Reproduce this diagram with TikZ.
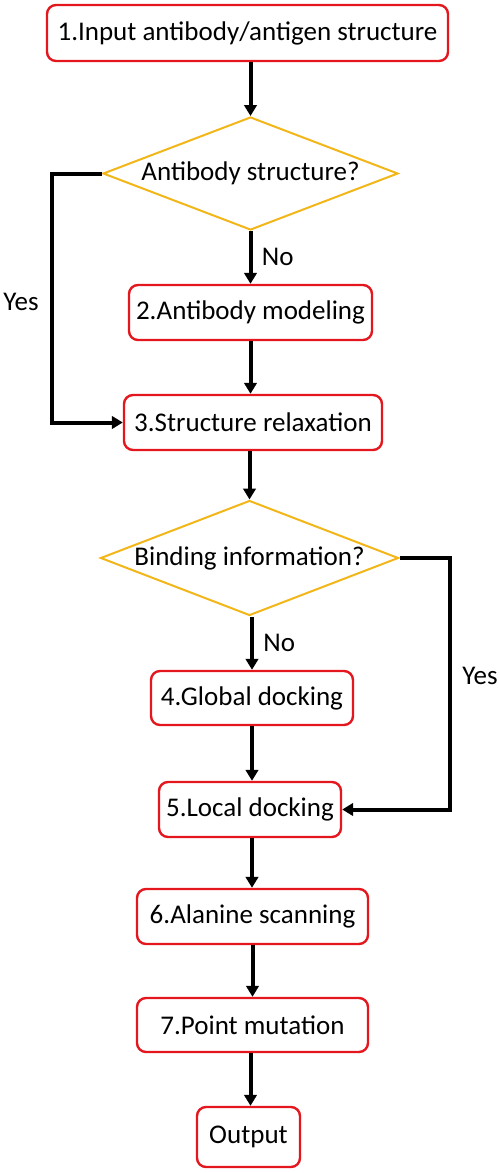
\documentclass[tikz,border=0pt]{standalone}
\usepackage{fontspec}
\setmainfont{Carlito}
\usetikzlibrary{arrows.meta}
\usetikzlibrary{shapes.geometric}
\definecolor{boxred}{RGB}{228,22,30}
\definecolor{decgold}{RGB}{242,182,24}
\tikzset{
 stepbox/.style={draw=boxred, line width=2.4pt, rounded corners=9pt, inner sep=0, font=\fontsize{27}{31}\selectfont},
 decision/.style={draw=decgold, diamond, aspect=2.6, line width=2pt, inner sep=0, font=\fontsize{27}{31}\selectfont},
 arr/.style={black, line width=4pt, -{Triangle[length=11pt,width=12.5pt]}},
 lbl/.style={font=\fontsize{27}{31}\selectfont}
}
\begin{document}
\begin{tikzpicture} [x=1pt, y=-1pt]
\useasboundingbox (0,0) rectangle (500,1173);
\node[stepbox, minimum width=401pt, minimum height=56pt] (b1) at (247.5,33) {1.Input antibody/antigen structure};
\node[decision, minimum width=295pt, minimum height=113pt] (d1) at (250.5,173.5) {Antibody structure?};
\node[stepbox, minimum width=243pt, minimum height=55pt] (b2) at (250.5,312.5) {2.Antibody modeling};
\node[stepbox, minimum width=258pt, minimum height=55pt] (b3) at (253,422.5) {3.Structure relaxation};
\node[decision, minimum width=298pt, minimum height=115pt] (d2) at (249.5,558) {Binding information?};
\node[stepbox, minimum width=202pt, minimum height=54pt] (b4) at (252,698) {4.Global docking};
\node[stepbox, minimum width=182pt, minimum height=55pt] (b5) at (250,809.5) {5.Local docking};
\node[stepbox, minimum width=231pt, minimum height=55pt] (b6) at (252.5,916.5) {6.Alanine scanning};
\node[stepbox, minimum width=231pt, minimum height=54pt] (b7) at (252.5,1025) {7.Point mutation};
\node[stepbox, minimum width=103pt, minimum height=60pt] (out) at (248.5,1137) {Output};
% main line
\draw[arr] (d1.north |- b1.south) -- (d1.north);
\draw[arr] (d1.south) -- (d1.south |- b2.north) node[lbl, midway, right, xshift=6pt] {No};
\draw[arr] (d1.south |- b2.south) -- (d1.south |- b3.north);
\draw[arr] (d2.north |- b3.south) -- (d2.north);
\draw[arr] (b4.north |- d2.south) -- (b4.north) node[lbl, midway, right, xshift=6pt] {No};
\draw[arr] (b4.south) -- (b4.south |- b5.north);
\draw[arr] (b4.south |- b5.south) -- (b4.south |- b6.north);
\draw[arr] (b6.south) -- (b6.south |- b7.north);
\draw[arr] (d1.south |- b7.south) -- (d1.south |- out.north);
% yes branches
\draw[arr] (d1.west) -- ++(-50,0) coordinate (y1) |- (b3.west);
\node[lbl] (yes1) at (21,302) {Yes};
\draw[arr] (d2.east) -- ++(50,0) coordinate (y2) |- (b5.east);
\node[lbl] (yes2) at (480,676) {Yes};
\end{tikzpicture}
\end{document}
